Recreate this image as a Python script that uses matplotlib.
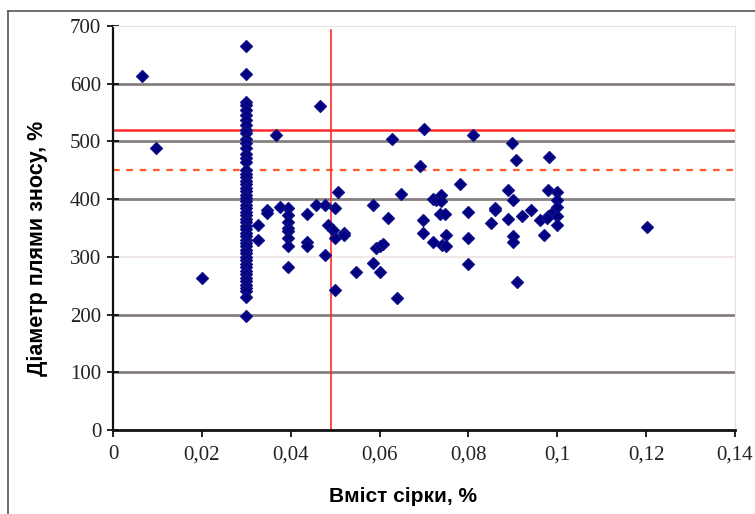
import matplotlib
matplotlib.use("Agg")
import matplotlib.pyplot as plt
from matplotlib import font_manager as fm
from matplotlib.lines import Line2D

# ---- data ----
col_x = 0.03
col_y = [665, 617, 569, 563, 555, 546, 537, 529, 520, 514, 505, 497, 488, 479, 471, 465,
         450, 444, 438, 432, 426, 420, 414, 408, 402, 396, 390, 384, 378, 372, 366, 360,
         354, 348, 342, 336, 330, 324, 318, 312, 306, 300, 294, 288, 282, 276, 270, 264,
         258, 252, 246, 240, 231, 197]

other_x = [0.0065, 0.0097, 0.02,
           0.0327, 0.0327, 0.0346, 0.0346, 0.0368, 0.0376,
           0.0395, 0.0395, 0.0395, 0.0395, 0.0395, 0.0395, 0.0395, 0.0395,
           0.0436, 0.0436, 0.0436, 0.0458, 0.0466, 0.0477, 0.0477,
           0.0485, 0.0496, 0.05, 0.0519, 0.05, 0.0507, 0.05, 0.0519,
           0.0548, 0.0586, 0.0586, 0.0593, 0.06, 0.06, 0.0608, 0.062, 0.0627, 0.064, 0.0648,
           0.069, 0.07, 0.0698, 0.0698, 0.072, 0.0728, 0.072, 0.0739, 0.0739, 0.0736, 0.0747,
           0.074, 0.075, 0.075,
           0.0781, 0.08, 0.08, 0.08, 0.0811,
           0.085, 0.086, 0.086, 0.089, 0.089, 0.0899, 0.09, 0.09, 0.09, 0.0908, 0.091,
           0.092, 0.094, 0.096, 0.097, 0.0982, 0.098, 0.098, 0.0976, 0.099,
           0.1, 0.1, 0.1, 0.1, 0.1,
           0.1203]
other_y = [614, 488, 264,
           355, 329, 381, 376, 511, 387,
           384, 373, 361, 350, 344, 332, 319, 282,
           375, 326, 318, 390, 562, 390, 303,
           355, 347, 332, 341, 384, 412, 243, 338,
           274, 390, 289, 315, 274, 318, 322, 367, 504, 228, 409,
           457, 522, 364, 341, 400, 398, 325, 407, 396, 375, 374,
           321, 338, 318,
           426, 378, 332, 288, 512,
           359, 384, 381, 416, 365, 497, 399, 336, 325, 467, 257,
           370, 381, 364, 338, 473, 416, 370, 367, 378,
           413, 399, 387, 370, 355,
           351]

sulfur_limit = 0.049
wear_limit_solid = 520
wear_limit_dashed = 450

x_ticks = [0, 0.02, 0.04, 0.06, 0.08, 0.1, 0.12, 0.14]
x_tick_labels = ["0", "0,02", "0,04", "0,06", "0,08", "0,1", "0,12", "0,14"]
y_ticks = [0, 100, 200, 300, 400, 500, 600, 700]
dark_grid = [100, 200, 400, 500, 600]
faint_grid = [300]

x_label = "Вміст сірки, %"
y_label = "Діаметр плями зносу, %"

# ---- fonts ----
names = {f.name for f in fm.fontManager.ttflist}
serif = "Liberation Serif" if "Liberation Serif" in names else "DejaVu Serif"
label_font = "Liberation Sans"

fig = plt.figure(figsize=(7.55, 5.14), dpi=100)
ax = fig.add_axes([113 / 755, 1 - 430 / 514, (735 - 113) / 755, (430 - 26) / 514])

# gridlines
for g in dark_grid:
    ax.axhline(g, color="#888080", lw=2.0, zorder=1)
for g in faint_grid:
    ax.axhline(g, color="#eee4e4", lw=1.2, zorder=1)

# reference lines
ax.axhline(wear_limit_solid, color="#ff2a2a", lw=1.8, zorder=2)
ax.axhline(wear_limit_dashed, color="#ff5a2a", lw=1.6, ls=(0, (3, 3)), zorder=2)
ax.axvline(sulfur_limit, ymin=0, ymax=0.99, color="#ff2a2a", lw=1.2, zorder=2)

# points
ax.scatter([col_x] * len(col_y), col_y, marker="D", s=36, color="#000080",
           edgecolors="#10108a", linewidths=1.0, zorder=3)
ax.scatter(other_x, other_y, marker="D", s=36, color="#000080",
           edgecolors="#10108a", linewidths=1.0, zorder=3)

ax.set_xlim(0, 0.14)
ax.set_ylim(0, 700)
ax.set_xticks(x_ticks)
ax.set_xticklabels(x_tick_labels)
ax.set_yticks(y_ticks)

for t in ax.get_xticklabels() + ax.get_yticklabels():
    t.set_fontfamily(serif)
    t.set_fontsize(15)
    t.set_color("#222222")

ax.tick_params(axis="y", direction="inout", length=9, width=1.2, pad=4)
ax.tick_params(axis="x", direction="out", length=5, width=1.2, pad=6)

ax.spines["left"].set_color("#111111")
ax.spines["left"].set_linewidth(1.6)
ax.spines["bottom"].set_color("#111111")
ax.spines["bottom"].set_linewidth(2.0)
ax.spines["top"].set_color("#e6e0e0")
ax.spines["right"].set_color("#e6e0e0")

fig.text(403 / 755, 1 - 496 / 514, x_label, ha="center", va="center",
         fontsize=15, fontweight="bold", family=[label_font, "DejaVu Sans"])
fig.text(37 / 755, 1 - 248 / 514, y_label, ha="center", va="center", rotation=90,
         fontsize=15.5, fontweight="bold", family=[label_font, "DejaVu Sans"])

# outer frame (top and left edges visible)
fig.add_artist(Line2D([8 / 755, 1], [1 - 11 / 514, 1 - 11 / 514],
                      transform=fig.transFigure, color="#555555", lw=1.2))
fig.add_artist(Line2D([8 / 755, 8 / 755], [0, 1 - 11 / 514],
                      transform=fig.transFigure, color="#555555", lw=1.2))

fig.savefig("out.png", dpi=100)
